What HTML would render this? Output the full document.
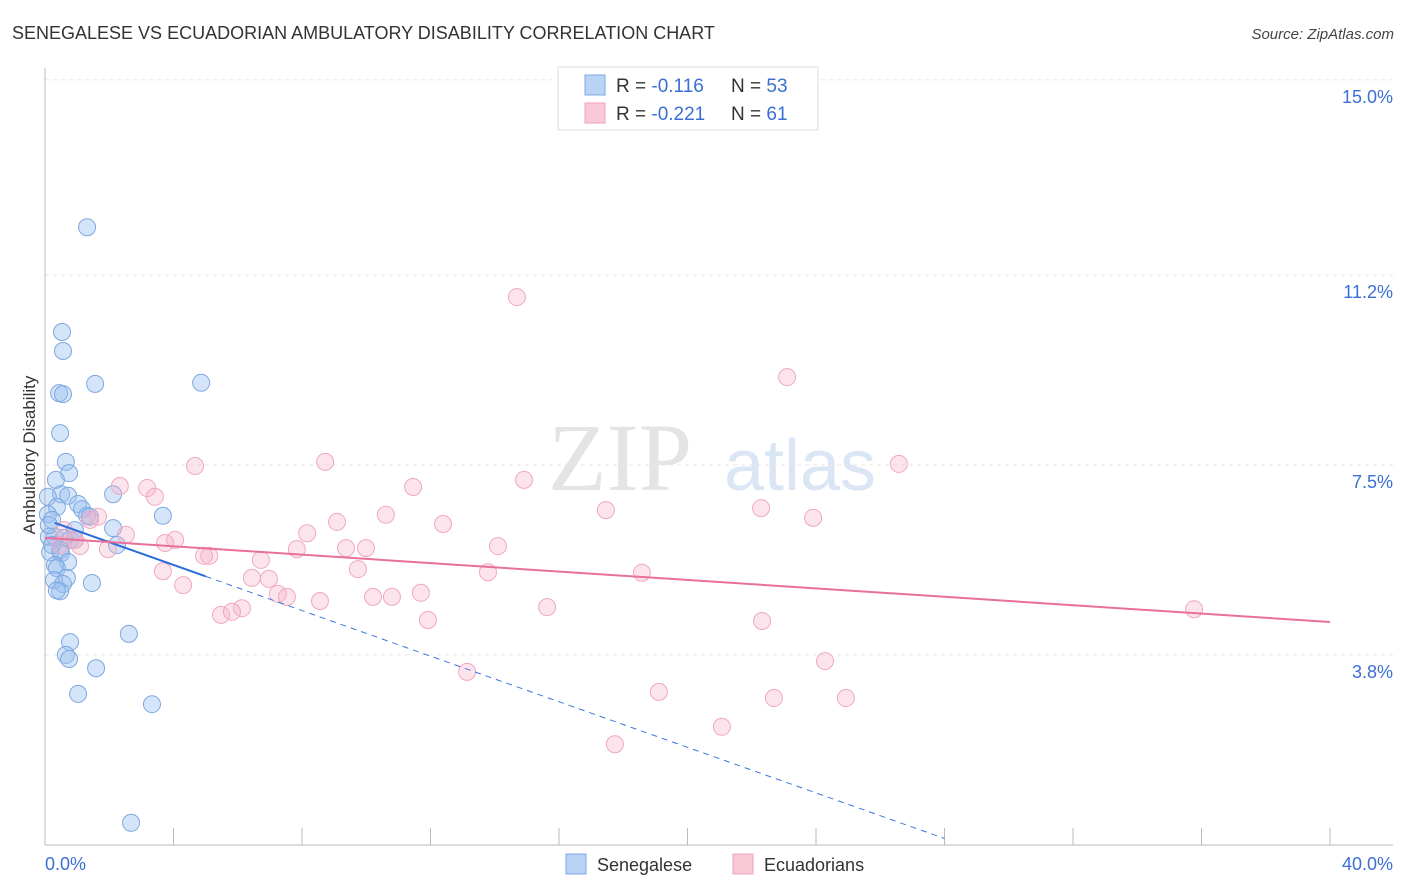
<!DOCTYPE html>
<html><head><meta charset="utf-8"><style>
body{margin:0;background:#fff;font-family:"Liberation Sans",sans-serif;}
svg{display:block}
</style></head><body>
<svg id="c" width="1406" height="892" xmlns="http://www.w3.org/2000/svg">
<text x="12" y="39" font-size="18" fill="#333">SENEGALESE VS ECUADORIAN AMBULATORY DISABILITY CORRELATION CHART</text>
<text x="1394" y="39" font-size="15" fill="#444" font-style="italic" text-anchor="end">Source: ZipAtlas.com</text>
<text x="620" y="490" font-size="96" fill="#e4e4e4" font-family="Liberation Serif" text-anchor="middle">ZIP</text>
<text x="800" y="490" font-size="72" fill="#dbe6f5" text-anchor="middle">atlas</text>
<g id="grid"></g><g id="axes"></g><g id="pts"></g><g id="lines"></g>
<text transform="translate(35,455) rotate(-90)" font-size="17" fill="#333" text-anchor="middle">Ambulatory Disability</text>
<text x="45" y="870" font-size="18" fill="#3b6fd4">0.0%</text>
<text x="1393" y="870" font-size="18" fill="#3b6fd4" text-anchor="end">40.0%</text>
<g>
<rect x="558" y="67" width="260" height="63" fill="#fff" stroke="#ddd"/>
<rect x="585" y="75" width="20" height="20" fill="#b8d3f5" stroke="#7ea8e0"/>
<rect x="585" y="103" width="20" height="20" fill="#f9c9d8" stroke="#eea0bb"/>
<text x="616" y="92" font-size="19" fill="#333">R = <tspan fill="#3b6fd4">-0.116</tspan><tspan x="731">N = </tspan><tspan fill="#3b6fd4">53</tspan></text>
<text x="616" y="120" font-size="19" fill="#333">R = <tspan fill="#3b6fd4">-0.221</tspan><tspan x="731">N = </tspan><tspan fill="#3b6fd4"> 61</tspan></text>
</g>
<g>
<rect x="566" y="854" width="20" height="20" fill="#b8d3f5" stroke="#7ea8e0"/>
<text x="597" y="871" font-size="18" fill="#333">Senegalese</text>
<rect x="733" y="854" width="20" height="20" fill="#f9c9d8" stroke="#eea0bb"/>
<text x="764" y="871" font-size="18" fill="#333">Ecuadorians</text>
</g>
</svg>
<script>
const yTicks=[15.0,11.2,7.5,3.8];
const yTickLabels=["15.0%","11.2%","7.5%","3.8%"];
const xTicks=[0,4,8,12,16,20,24,28,32,36,40];
const blueX=[1.31,0.53,0.56,1.56,4.86,0.44,0.56,0.47,0.65,0.75,0.34,0.50,0.72,0.09,1.03,1.15,0.37,1.31,2.12,3.67,0.09,0.22,1.40,0.93,2.12,0.31,0.59,0.78,0.12,2.24,0.47,0.16,0.50,0.72,0.31,0.37,0.68,0.28,0.56,1.46,0.47,0.78,2.61,0.65,0.75,1.59,1.03,3.33,2.68,0.22,0.12,0.37,0.93];
const blueY=[12.13,10.09,9.72,9.08,9.10,8.90,8.88,8.12,7.56,7.34,7.21,6.93,6.90,6.88,6.74,6.64,6.68,6.51,6.93,6.51,6.54,6.43,6.49,6.23,6.27,6.10,6.08,6.04,6.10,5.94,5.84,5.80,5.78,5.61,5.55,5.49,5.30,5.26,5.18,5.20,5.04,4.05,4.21,3.80,3.72,3.54,3.04,2.84,0.53,5.94,6.33,5.06,6.04];
const pinkX=[14.69,23.10,4.67,8.72,26.58,14.91,2.33,3.18,11.46,3.42,17.46,22.29,10.61,9.09,12.39,23.91,1.65,1.40,8.16,2.52,0.59,4.05,3.74,14.10,1.09,1.96,7.84,9.37,9.99,5.11,4.95,6.72,9.74,13.79,3.67,18.58,6.44,6.97,4.30,7.25,7.53,10.21,10.80,11.70,8.56,15.63,6.13,5.48,5.82,11.92,22.32,35.77,24.28,13.14,19.11,22.69,24.93,21.07,17.74,0.47,0.93];
const pinkY=[10.77,9.21,7.48,7.56,7.52,7.21,7.09,7.05,7.07,6.88,6.62,6.66,6.53,6.39,6.35,6.47,6.49,6.43,6.17,6.14,6.23,6.04,5.98,5.92,5.92,5.86,5.86,5.88,5.88,5.73,5.73,5.65,5.47,5.41,5.43,5.40,5.30,5.28,5.16,4.99,4.93,4.93,4.93,5.01,4.85,4.73,4.71,4.58,4.64,4.48,4.46,4.69,3.68,3.47,3.08,2.96,2.96,2.40,2.06,5.94,6.04];
const blueTrend=[6.44,-0.222];
const pinkTrend=[6.08,-0.041];
const NS="http://www.w3.org/2000/svg";
function X(v){return 45+v*32.125;}
function Y(v){return 850-v*51.34;}
function mk(tag,attrs,parent){const e=document.createElementNS(NS,tag);for(const k in attrs)e.setAttribute(k,attrs[k]);document.getElementById(parent).appendChild(e);return e;}
yTicks.forEach((t,i)=>{
 const l=mk('line',{x1:45,x2:1393,y1:Y(t),y2:Y(t),stroke:'#e6e6e6','stroke-dasharray':'4,4'},'grid');
 
 
 const tx=mk('text',{x:1393,y:Y(t)+23,'font-size':18,fill:'#3b6fd4','text-anchor':'end'},'grid');
 tx.textContent=yTickLabels[i];
 
 
});
let a=mk('line',{x1:45,x2:45,y1:68,y2:845,stroke:'#bbb'},'axes');


a=mk('line',{x1:45,x2:1393,y1:845,y2:845,stroke:'#bbb'},'axes');


xTicks.forEach(t=>{
 const l=mk('line',{x1:X(t),x2:X(t),y1:828,y2:845,stroke:'#bbb'},'axes');
 
 
});
blueX.forEach((x,i)=>{
 const c=mk('circle',{cx:X(x),cy:Y(blueY[i]),r:8.5,fill:'rgba(150,190,240,0.4)',stroke:'#7ea8e0','stroke-width':1},'pts');
 
 
});
pinkX.forEach((x,i)=>{
 const c=mk('circle',{cx:X(x),cy:Y(pinkY[i]),r:8.5,fill:'rgba(246,178,200,0.35)',stroke:'#f0a8c0','stroke-width':1},'pts');
 
 
});
function tv(t,x){return t[0]+t[1]*x;}
let ln=mk('line',{x1:X(5),y1:Y(tv(blueTrend,5)),x2:X(28),y2:Y(tv(blueTrend,28)),stroke:'#3a78dd','stroke-width':1,'stroke-dasharray':'6,5'},'lines');


ln=mk('line',{x1:X(0.3),y1:Y(tv(blueTrend,0.3)),x2:X(5),y2:Y(tv(blueTrend,5)),stroke:'#2a6dd9','stroke-width':2},'lines');


ln=mk('line',{x1:X(0),y1:Y(tv(pinkTrend,0)),x2:X(40),y2:Y(tv(pinkTrend,40)),stroke:'#e8709a','stroke-width':2},'lines');


</script>
</body></html>
